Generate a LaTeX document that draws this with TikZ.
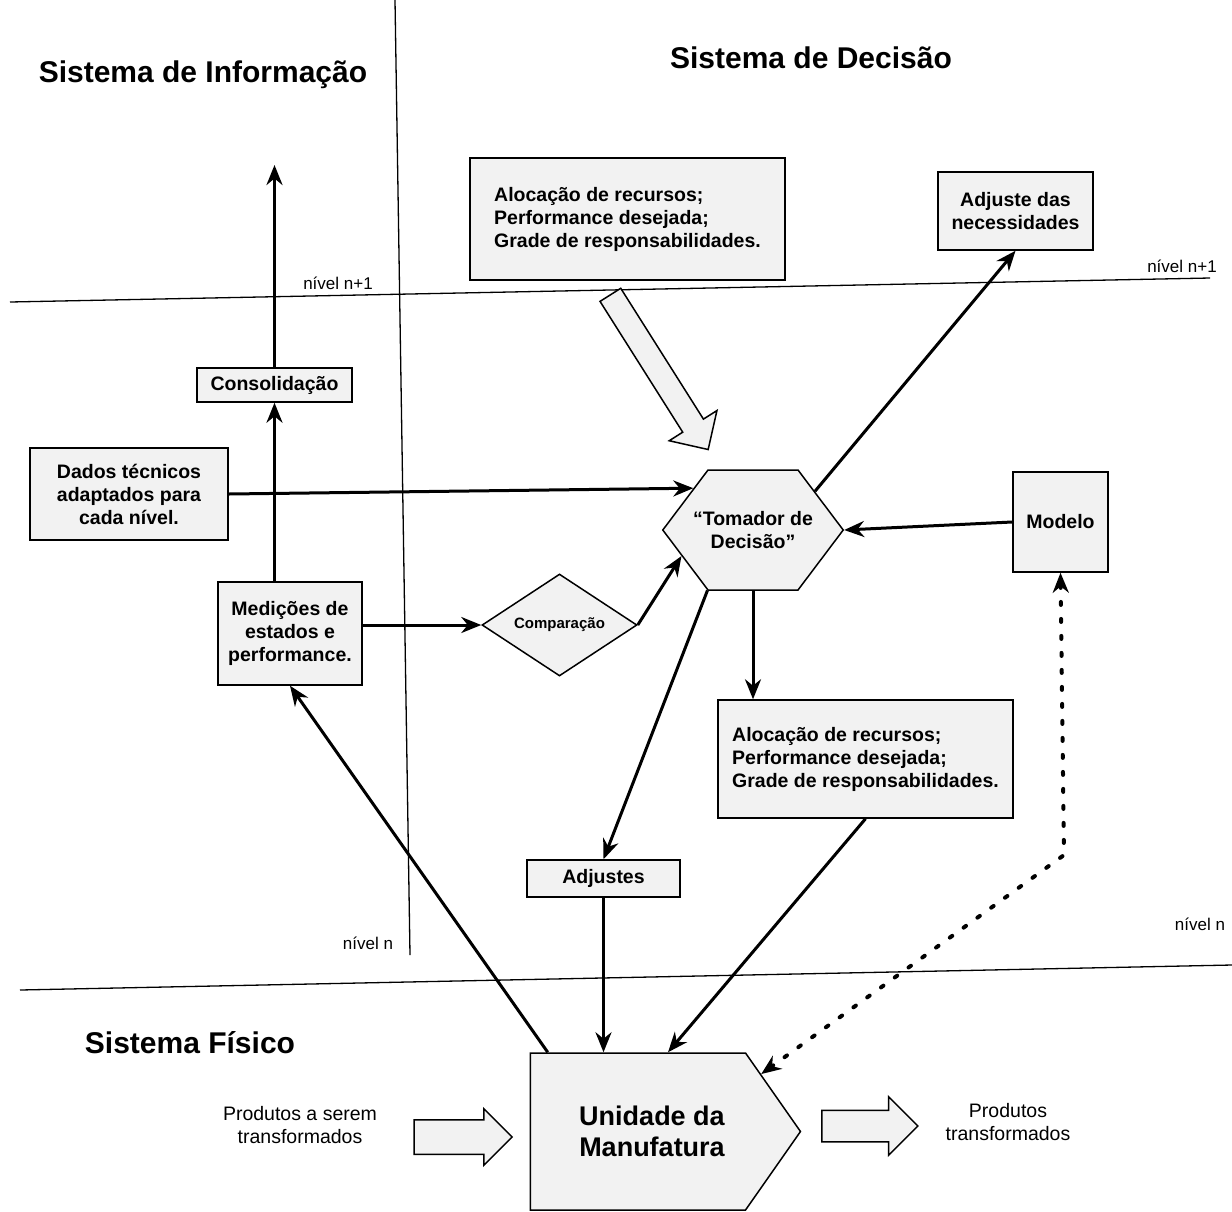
\documentclass[tikz,border=0pt]{standalone}
\usepackage{fontspec}
\setmainfont{Liberation Sans}
\usetikzlibrary{arrows.meta,shapes.geometric,shapes.symbols,shapes.arrows,calc}

\begin{document}
\begin{tikzpicture}[x=1pt,y=-1pt,>={Stealth[length=20pt,width=16pt]}]
		\tikzstyle{box}=[rectangle, draw=black, line width=1.5pt, fill=gray!10, font=\bfseries\fontsize{19.5}{23}\selectfont, align=center, inner sep=2pt]
		\tikzstyle{title}=[font=\bfseries\fontsize{30}{34}\selectfont]
		\tikzstyle{level}=[font=\fontsize{17}{20}\selectfont]
		\tikzstyle{plain}=[font=\fontsize{19.5}{23}\selectfont, align=center]
		\tikzstyle{link}=[->, line width=3pt]
		\tikzstyle{hollow}=[single arrow, draw=black, line width=1.5pt, fill=gray!10, minimum width=55pt]
		\tikzstyle{sep}=[line width=1.3pt]

		\useasboundingbox (0,0) rectangle (1232,1211);

		\draw [sep] (395,0) -- (410,955);
		\draw [sep] (10,302) -- (1210,278);
		\draw [sep] (20,990) -- (1232,965);

		\node [title] (info) at (203,75) {Sistema de Informação};
		\node [title] (decisao) at (811,58) {Sistema de Decisão};
		\node [title] (fisico) at (190,1043) {Sistema Físico};

		\node [level] (n1a) at (338,283) {nível n+1};
		\node [level] (n1b) at (1182,266) {nível n+1};
		\node [level] (na) at (368,943) {nível n};
		\node [level] (nb) at (1200,924) {nível n};

		\node [box, align=left, minimum width=315pt, minimum height=122pt] (aloc1) at (627.5,219) {Alocação de recursos;\\Performance desejada;\\Grade de responsabilidades.};
		\node [box, minimum width=155pt, minimum height=78pt] (adjnec) at (1015.5,211) {Adjuste das\\necessidades};
		\node [box, signal, signal to=west and east, signal pointer angle=106, inner xsep=0pt, minimum height=120pt] (tomador) at (753,530) {\makebox[90pt]{“Tomador de}\\\makebox[90pt]{Decisão”}};
		\node [box, minimum width=95pt, minimum height=100pt] (modelo) at (1060.5,522) {Modelo};
		\node [box, minimum width=155pt, minimum height=34pt] (consol) at (274.5,385) {Consolidação};
		\node [box, minimum width=198pt, minimum height=92pt] (dados) at (129,494) {Dados técnicos\\adaptados para\\cada nível.};
		\node [box, minimum width=144pt, minimum height=103pt] (medic) at (290,633.5) {Medições de\\estados e\\performance.};
		\node [box, diamond, aspect=1.5, inner sep=0pt, minimum width=155pt, minimum height=102pt, font=\bfseries\fontsize{15}{18}\selectfont] (comp) at (559.5,625) {Comparação};
		\node [box, align=left, minimum width=295pt, minimum height=118pt] (aloc2) at (865.5,759) {Alocação de recursos;\\Performance desejada;\\Grade de responsabilidades.};
		\node [box, minimum width=153pt, minimum height=37pt] (ajustes) at (603.5,878.5) {Adjustes};
		\node [box, signal, signal to=east, signal pointer angle=110, minimum width=270pt, minimum height=157pt, font=\bfseries\fontsize{27}{31}\selectfont] (unidade) at (638,1131.5) {\hspace*{28pt}Unidade da\\\hspace*{28pt}Manufatura};

		\node [hollow, minimum height=183pt, inner xsep=0pt, inner ysep=11.5pt, single arrow head extend=16pt, rotate=-57.7] (desce) at (656,367) {};
		\node [hollow, minimum height=98pt, inner xsep=0pt, inner ysep=16.5pt, single arrow head extend=11pt] (entra) at (454.5,1137) {};
		\node [hollow, minimum height=96pt, inner xsep=0pt, inner ysep=15pt, single arrow head extend=13.5pt] (sai) at (862,1126) {};
		\node [plain] (prodin) at (300,1125) {Produtos a serem\\transformados};
		\node [plain] (prodout) at (1008,1122) {Produtos\\transformados};

		\coordinate (topo) at (274.5,165);
		\coordinate (curva) at (1064,855);

		\draw [link] (consol.north) -- (topo);
		\draw [link] (consol.south |- medic.north) -- (consol.south);
		\draw [link] (dados.east) -- (tomador.145);
		\draw [link] (medic.east |- comp.west) -- (comp.west);
		\draw [link] (comp.east) -- (tomador.200);
		\draw [link] (tomador.32) -- (adjnec.south);
		\draw [link] (modelo.west) -- (tomador.east);
		\draw [link] (tomador.233) -- (ajustes.north);
		\draw [link] (tomador.south) -- (tomador.south |- aloc2.north);
		\draw [link] (ajustes.south) -- (ajustes.south |- unidade.north);
		\draw [link] (aloc2.south) -- ($(unidade.north)+(30,0)$);
		\draw [link] ($(unidade.north west)+(18,0)$) -- (medic.south);
		\draw [<->, line width=4pt, line cap=round, dash pattern=on 3pt off 14pt] (modelo.south) -- (curva) -- (unidade.25);
	\end{tikzpicture}
\end{document}
